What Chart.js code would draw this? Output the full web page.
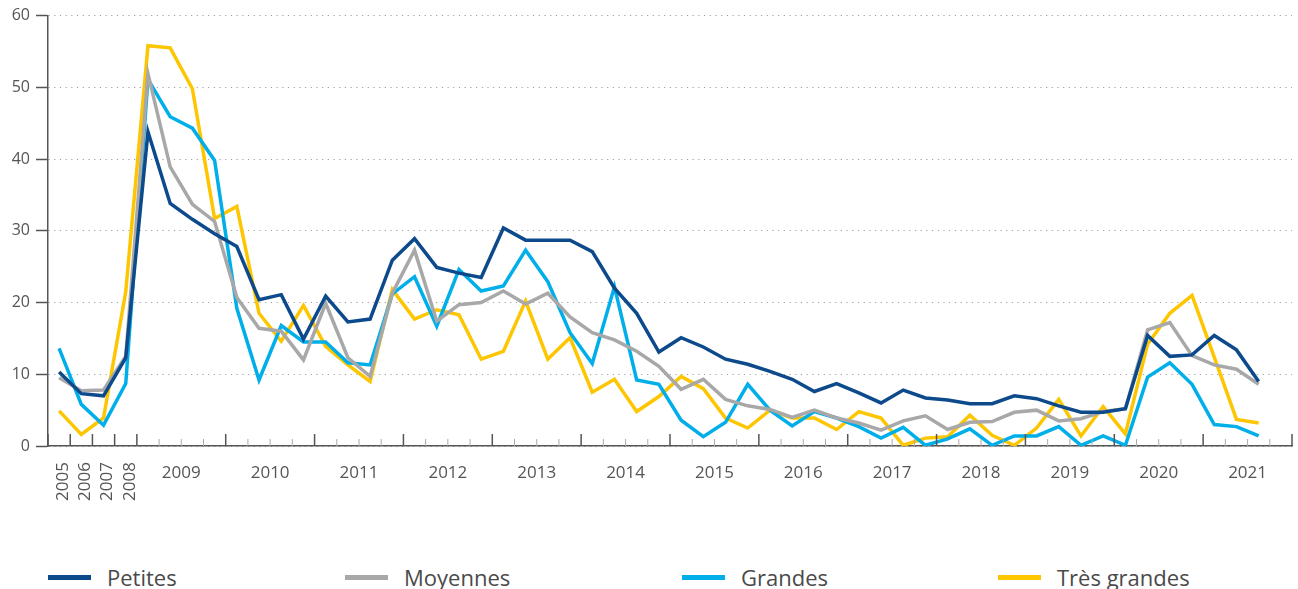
<!DOCTYPE html>
<html><head><meta charset="utf-8">
<script src="https://cdn.jsdelivr.net/npm/chart.js@4.4.1/dist/chart.umd.min.js"></script>
<style>
html,body{margin:0;padding:0;background:#fff;}
#wrap{position:relative;width:1298px;height:589px;overflow:hidden;}
canvas{position:absolute;left:0;top:0;}
.leg{position:absolute;top:563px;height:28px;display:flex;align-items:center;font-family:"Open Sans",sans-serif;font-size:22px;color:#4a4a4a;white-space:nowrap;}
.leg .sw{display:inline-block;width:43px;height:5px;margin-right:16px;}
</style></head>
<body>
<div id="wrap"><canvas id="c" width="1298" height="540" style="width:1298px;height:540px"></canvas><div id="legend"></div></div>
<script>
// Categories: annual 2005-2008, then quarterly 2009 T1 .. 2021 T4
const categories = [
  "2005","2006","2007","2008",
  "2009 T1","2009 T2","2009 T3","2009 T4",
  "2010 T1","2010 T2","2010 T3","2010 T4",
  "2011 T1","2011 T2","2011 T3","2011 T4",
  "2012 T1","2012 T2","2012 T3","2012 T4",
  "2013 T1","2013 T2","2013 T3","2013 T4",
  "2014 T1","2014 T2","2014 T3","2014 T4",
  "2015 T1","2015 T2","2015 T3","2015 T4",
  "2016 T1","2016 T2","2016 T3","2016 T4",
  "2017 T1","2017 T2","2017 T3","2017 T4",
  "2018 T1","2018 T2","2018 T3","2018 T4",
  "2019 T1","2019 T2","2019 T3","2019 T4",
  "2020 T1","2020 T2","2020 T3","2020 T4",
  "2021 T1","2021 T2","2021 T3","2021 T4"
];
const annualLabels = ["2005","2006","2007","2008"];
const yearLabels = ["2009","2010","2011","2012","2013","2014","2015","2016","2017","2018","2019","2020","2021"];
const yTicks = [0,10,20,30,40,50,60];

const petites = [10.3,7.3,7.0,12.3, 43.8,33.8,31.6,29.6, 27.8,20.4,21.1,14.9, 20.9,17.3,17.7,25.9,
  28.9,24.9,24.1,23.5, 30.4,28.7,28.7,28.7, 27.1,22.0,18.5,13.1, 15.1,13.8,12.1,11.4,
  10.4,9.3,7.6,8.7, 7.4,6.0,7.8,6.7, 6.4,5.9,5.9,7.0, 6.6,5.6,4.7,4.7, 5.2,15.4,12.5,12.7,
  15.4,13.4,9.0,null];
const moyennes = [9.5,7.7,7.8,12.5, 51.9,38.9,33.7,31.3, 20.7,16.4,16.0,12.0, 19.9,12.3,9.7,21.3,
  27.3,17.4,19.7,20.0, 21.6,19.8,21.3,18.0, 15.8,14.8,13.2,11.1, 7.9,9.3,6.5,5.6,
  5.1,4.0,5.0,3.9, 3.2,2.2,3.5,4.2, 2.3,3.3,3.4,4.7, 5.0,3.5,3.8,4.8, 5.2,16.2,17.2,12.6,
  11.3,10.7,8.6,null];
const grandes = [13.6,5.8,2.9,8.7, 51.1,45.9,44.3,39.8, 19.2,9.2,16.8,14.5, 14.5,11.6,11.3,21.2,
  23.6,16.7,24.6,21.6, 22.3,27.3,22.9,15.8, 11.5,22.2,9.2,8.6, 3.6,1.3,3.3,8.6,
  5.0,2.8,4.8,3.9, 2.7,1.1,2.6,0.1, 1.0,2.4,0.1,1.4, 1.4,2.7,0.1,1.4, 0.1,9.6,11.6,8.6,
  3.0,2.7,1.4,null];
const tresGrandes = [4.9,1.6,3.9,21.5, 55.8,55.5,49.8,31.7, 33.4,18.5,14.6,19.6, 13.9,11.3,9.0,21.8,
  17.7,19.0,18.3,12.1, 13.2,20.2,12.1,15.1, 7.5,9.3,4.8,6.9, 9.7,8.0,3.9,2.5,
  5.0,3.9,3.9,2.3, 4.8,3.9,0.1,1.1, 1.3,4.3,1.5,0.1, 2.5,6.5,1.4,5.5, 1.7,14.2,18.5,21.0,
  12.4,3.7,3.2,null];

const seriesNames = ["Petites","Moyennes","Grandes","Très grandes"];
const seriesColors = ["#0c4a8c","#a8a8a8","#00aeea","#fdc600"];
const seriesData = [petites, moyennes, grandes, tresGrandes];

const FONT = '"Open Sans", "DejaVu Sans", sans-serif';
const TXT = '#555555';

const xAxisPlugin = {
  id: 'xAxisDeco',
  afterDraw(chart) {
    const xs = chart.scales.x, ctx = chart.ctx, area = chart.chartArea;
    const band = xs.getPixelForValue(1) - xs.getPixelForValue(0);
    const y0 = area.bottom;
    ctx.save();
    for (let k = 0; k <= categories.length; k++) {
      const bx = xs.getPixelForValue(Math.min(k, categories.length - 1)) + (k === categories.length ? band / 2 : -band / 2);
      const major = k <= annualLabels.length || (k - annualLabels.length) % 4 === 0;
      ctx.beginPath();
      ctx.strokeStyle = major ? '#555' : '#aaa';
      ctx.lineWidth = major ? 1.5 : 1;
      ctx.moveTo(bx, y0);
      ctx.lineTo(bx, y0 - (major ? 12 : 7));
      ctx.stroke();
    }
    ctx.fillStyle = TXT;
    ctx.font = '17px ' + FONT;
    annualLabels.forEach((lab, i) => {
      const cx = xs.getPixelForValue(i);
      ctx.save();
      ctx.translate(cx + 4, y0 + 16);
      ctx.rotate(-Math.PI / 2);
      ctx.textAlign = 'right';
      ctx.textBaseline = 'middle';
      ctx.fillText(lab, 0, 0);
      ctx.restore();
    });
    yearLabels.forEach((lab, j) => {
      const first = annualLabels.length + j * 4;
      const cx = (xs.getPixelForValue(first) + xs.getPixelForValue(first + 3)) / 2;
      ctx.textAlign = 'center';
      ctx.textBaseline = 'middle';
      ctx.fillText(lab, cx, y0 + 27);
    });
    ctx.restore();
  }
};

new Chart(document.getElementById('c'), {
  type: 'line',
  data: {
    labels: categories,
    datasets: seriesData.map((d, i) => ({
      label: seriesNames[i],
      data: d,
      borderColor: seriesColors[i],
      backgroundColor: seriesColors[i],
      borderWidth: 3.5,
      pointRadius: 0,
      tension: 0,
      borderJoinStyle: 'miter',
      spanGaps: false
    }))
  },
  options: {
    responsive: false,
    animation: false,
    maintainAspectRatio: false,
    layout: { padding: { top: 15, right: 6, bottom: 0, left: 0 } },
    plugins: { legend: { display: false }, tooltip: { enabled: false } },
    scales: {
      x: {
        offset: true,
        grid: { display: false },
        border: { display: true, color: '#555', width: 1.5 },
        ticks: { display: false },
        afterFit(s) { s.height = 540 - 446; }
      },
      y: {
        min: 0, max: 60,
        afterBuildTicks(s) { s.ticks = yTicks.map(v => ({ value: v })); },
        grid: {
          color: '#a0a0a0', lineWidth: 1,
          tickColor: '#555', tickLength: 12, tickBorderDash: [], tickWidth: 1.5
        },
        border: { display: true, color: '#555', width: 1.5, dash: [1.2, 4.5] },
        ticks: { color: TXT, font: { family: FONT, size: 16 }, padding: 6 },
        afterFit(s) { s.width = 48; }
      }
    }
  },
  plugins: [xAxisPlugin]
});

const legendLefts = [48, 345, 682, 998];
const lg = document.getElementById('legend');
seriesNames.forEach((n, i) => {
  const d = document.createElement('div');
  d.className = 'leg';
  d.style.left = legendLefts[i] + 'px';
  d.innerHTML = '<span class="sw" style="background:' + seriesColors[i] + '"></span><span>' + n + '</span>';
  lg.appendChild(d);
});
</script>
</body></html>
